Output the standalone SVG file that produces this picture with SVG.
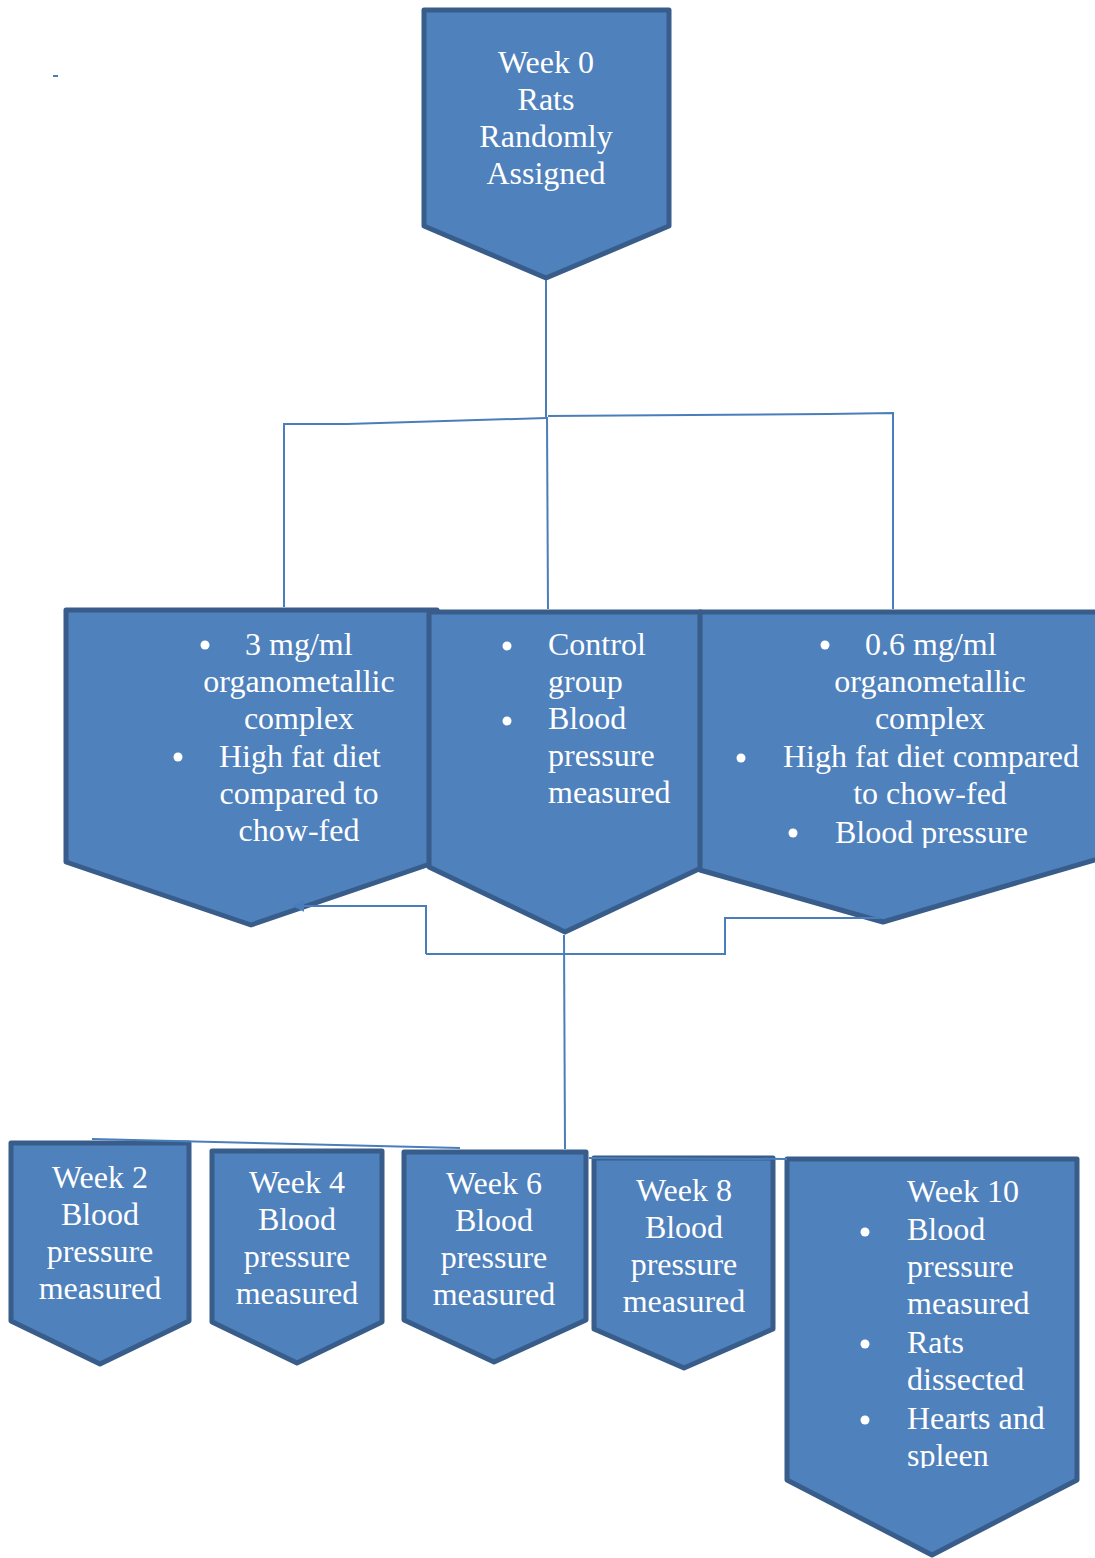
<svg xmlns="http://www.w3.org/2000/svg" width="1095" height="1558" viewBox="0 0 1095 1558">
<style>
.node{fill:#4f81bd;stroke:#385d8a;stroke-width:5;stroke-linejoin:round}
.t{font-family:"Liberation Serif","Times New Roman",serif;font-size:32px;fill:#ffffff}
.c{text-anchor:middle}
.b{fill:#ffffff}
.con{fill:none;stroke:#4a7ebb;stroke-width:2}
</style>
<defs>
<marker id="ah" viewBox="0 0 10 10" refX="2" refY="5" markerWidth="6" markerHeight="6" orient="auto-start-reverse">
<path d="M0,0 L10,5 L0,10 z" fill="#4a7ebb"/>
</marker>
<clipPath id="clipR"><rect x="690" y="600" width="420" height="248"/></clipPath>
<clipPath id="clipW10"><rect x="780" y="1150" width="310" height="318"/></clipPath>
</defs>
<rect x="53" y="75" width="5" height="2" fill="#4a7ebb"/>
<g id="week0">
<polygon class="node" points="424,10 669,10 669,226 546,278 424,226"/>
<text class="t c" x="546" y="73">Week 0</text>
<text class="t c" x="546" y="110">Rats</text>
<text class="t c" x="546" y="147">Randomly</text>
<text class="t c" x="546" y="184">Assigned</text>
</g>
<g id="group3mg">
<polygon class="node" points="66,610 437,610 430,610 430,864 251,925 66,862"/>
<circle class="b" cx="205" cy="645" r="4.5"/>
<circle class="b" cx="178" cy="757" r="4.5"/>
<text class="t" x="245" y="655">3 mg/ml</text>
<text class="t c" x="299" y="692">organometallic</text>
<text class="t c" x="299" y="729">complex</text>
<text class="t" x="219" y="767">High fat diet</text>
<text class="t c" x="299" y="804">compared to</text>
<text class="t c" x="299" y="841">chow-fed</text>
</g>
<g id="control">
<polygon class="node" points="429,612 701,612 701,868 565,932 429,867"/>
<circle class="b" cx="507" cy="646" r="4.5"/>
<circle class="b" cx="507" cy="721" r="4.5"/>
<text class="t" x="548" y="655">Control</text>
<text class="t" x="548" y="692">group</text>
<text class="t" x="548" y="729">Blood</text>
<text class="t" x="548" y="766">pressure</text>
<text class="t" x="548" y="803">measured</text>
</g>
<g id="group06mg">
<polygon class="node" points="700,612 1115,612 1115,854 883,922 700,870"/>
<circle class="b" cx="825" cy="645" r="4.5"/>
<circle class="b" cx="741" cy="758" r="4.5"/>
<circle class="b" cx="793" cy="833" r="4.5"/>
<g clip-path="url(#clipR)">
<text class="t" x="865" y="655">0.6 mg/ml</text>
<text class="t c" x="930" y="692">organometallic</text>
<text class="t c" x="930" y="729">complex</text>
<text class="t" x="783" y="767">High fat diet compared</text>
<text class="t c" x="930" y="804">to chow-fed</text>
<text class="t" x="835" y="843">Blood pressure</text>
</g>
</g>
<g id="week2">
<polygon class="node" points="11,1143 189,1143 189,1321 100,1364 11,1321"/>
<text class="t c" x="100" y="1188">Week 2</text>
<text class="t c" x="100" y="1225">Blood</text>
<text class="t c" x="100" y="1262">pressure</text>
<text class="t c" x="100" y="1299">measured</text>
</g>
<g id="week4">
<polygon class="node" points="212,1151 382,1151 382,1322 297,1363 212,1322"/>
<text class="t c" x="297" y="1193">Week 4</text>
<text class="t c" x="297" y="1230">Blood</text>
<text class="t c" x="297" y="1267">pressure</text>
<text class="t c" x="297" y="1304">measured</text>
</g>
<g id="week6">
<polygon class="node" points="404,1152 586,1152 586,1320 494,1362 404,1320"/>
<text class="t c" x="494" y="1194">Week 6</text>
<text class="t c" x="494" y="1231">Blood</text>
<text class="t c" x="494" y="1268">pressure</text>
<text class="t c" x="494" y="1305">measured</text>
</g>
<g id="week8">
<polygon class="node" points="594,1158 773,1158 773,1329 684,1368 594,1329"/>
<text class="t c" x="684" y="1201">Week 8</text>
<text class="t c" x="684" y="1238">Blood</text>
<text class="t c" x="684" y="1275">pressure</text>
<text class="t c" x="684" y="1312">measured</text>
</g>
<g id="week10">
<polygon class="node" points="787,1159 1077,1159 1077,1480 932,1555 787,1480"/>
<circle class="b" cx="865" cy="1232" r="4.5"/>
<circle class="b" cx="865" cy="1344" r="4.5"/>
<circle class="b" cx="865" cy="1420" r="4.5"/>
<g clip-path="url(#clipW10)">
<text class="t" x="907" y="1202">Week 10</text>
<text class="t" x="907" y="1240">Blood</text>
<text class="t" x="907" y="1277">pressure</text>
<text class="t" x="907" y="1314">measured</text>
<text class="t" x="907" y="1353">Rats</text>
<text class="t" x="907" y="1390">dissected</text>
<text class="t" x="907" y="1429">Hearts and</text>
<text class="t" x="907" y="1466">spleen</text>
</g>
</g>
<g id="connectors">
<polyline class="con" points="546,280 546,417"/>
<polyline class="con" points="546,418 347,424 284,424 284,607"/>
<polyline class="con" points="547,417 548,609"/>
<polyline class="con" points="548,416 828,414 893,413 893,609"/>
<polyline class="con" points="426,954 426,906 302,906" marker-end="url(#ah)"/>
<polyline class="con" points="426,954 725,954 725,918 880,918"/>
<polyline class="con" points="564,935 565,1149"/>
<polyline class="con" points="92,1139 460,1148"/>
<polyline class="con" points="589,1158 787,1159"/>
</g>
</svg>
